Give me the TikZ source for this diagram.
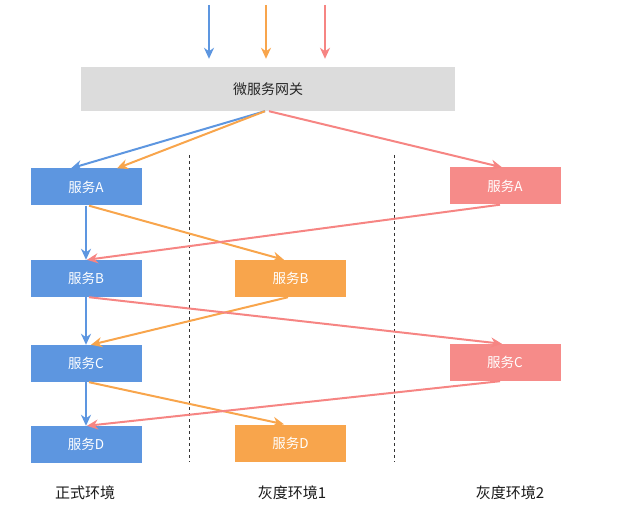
\documentclass[tikz,border=0pt]{standalone}
\usepackage{fontspec}
\newfontfamily\cjk{Noto Sans CJK SC}
\usetikzlibrary{arrows.meta}
\definecolor{prodblue}{HTML}{5D96E0}
\definecolor{grayorange}{HTML}{F8A54C}
\definecolor{grayred}{HTML}{F68583}
\definecolor{gwgray}{HTML}{DCDCDC}

\begin{document}
\begin{tikzpicture}[x=1pt, y=-1pt,
            % ----- Styles -----
                svc/.style={
                    rectangle, minimum width=111pt, minimum height=37pt,
                    inner sep=0pt, text=white, font=\cjk\fontsize{13.5}{15}\selectfont
                },
                prod/.style={svc, fill=prodblue},
                grayone/.style={svc, fill=grayorange},
                graytwo/.style={svc, fill=grayred!95!white},
                gw/.style={
                    rectangle, fill=gwgray, minimum width=374pt, minimum height=44pt,
                    font=\cjk\fontsize{14}{16}\selectfont, text=black!85
                },
                flow/.style={-{Stealth[length=11pt, width=10pt, inset=3.5pt]}, line width=2pt},
                envline/.style={dashed, dash pattern=on 3pt off 3pt, line width=0.9pt, black!80},
                envlbl/.style={font=\cjk\fontsize{15}{18}\selectfont, text=black!90}
            ]
                \useasboundingbox (0,0) rectangle (632,513);

% ===================== Umgebungsgrenzen =======================
                \draw[envline] (189,155) -- (189,462);
                \draw[envline] (394,155) -- (394,462);

% ===================== Gateway ================================
                \node[gw] (gw) at (268,89) {微服务网关};

                \coordinate (inb) at (209,5);
                \coordinate (ino) at (266,5);
                \coordinate (inr) at (325,5);

% ===================== Dienste ================================
%
%  Spalte 1 (x=86):  正式环境, A B C D
%  Spalte 2 (x=290): 灰度环境1, B D
%  Spalte 3 (x=505): 灰度环境2, A C

                \node[prod]    (pa) at (86, 187)   {服务A};
                \node[prod]    (pb) at (86, 278.5) {服务B};
                \node[prod]    (pc) at (86, 363.5) {服务C};
                \node[prod]    (pd) at (86, 444.5) {服务D};

                \node[grayone] (ob) at (290.5, 278.5) {服务B};
                \node[grayone] (od) at (290.5, 443)   {服务D};

                \node[graytwo] (ra) at (505, 186)   {服务A};
                \node[graytwo] (rc) at (505, 362.5) {服务C};

% ===================== Umgebungsnamen =========================
                \node[envlbl] (lp)  at (85, 493)  {正式环境};
                \node[envlbl] (lg1) at (292, 493) {灰度环境1};
                \node[envlbl] (lg2) at (510, 493) {灰度环境2};

% ===================== Eingehende Anfragen ====================
                \draw[flow, prodblue,   shorten >=8pt] (inb) -- (inb |- gw.north);
                \draw[flow, grayorange, shorten >=8pt] (ino) -- (ino |- gw.north);
                \draw[flow, grayred,    shorten >=8pt] (inr) -- (inr |- gw.north);

% ===================== Gateway -> Dienst A ====================
                \draw[flow, prodblue]   ([xshift=-3pt]gw.south) -- ([xshift=-15pt]pa.north);
                \draw[flow, grayorange] ([xshift=-3pt]gw.south) -- ([xshift=31pt]pa.north);
                \draw[flow, grayred]    ([xshift=1pt]gw.south)  -- ([xshift=-3pt]ra.north);

% ===================== Aufrufkette ============================
% blau: alles im 正式环境
                \draw[flow, prodblue] (pa.south) -- (pb.north);
                \draw[flow, prodblue] (pb.south) -- (pc.north);
                \draw[flow, prodblue] (pc.south) -- (pd.north);

% orange: B und D aus 灰度环境1
                \draw[flow, grayorange] ([xshift=3pt]pa.south) -- ([xshift=-6.5pt]ob.north);
                \draw[flow, grayorange] ([xshift=-2.5pt]ob.south) -- ([xshift=5pt]pc.north);
                \draw[flow, grayorange] ([xshift=3pt]pc.south) -- ([xshift=-6.5pt]od.north);

% rot: A und C aus 灰度环境2
                \draw[flow, grayred] ([xshift=-5pt]ra.south) -- ([xshift=1pt]pb.north);
                \draw[flow, grayred] ([xshift=3pt]pb.south) -- ([xshift=-3pt]rc.north);
                \draw[flow, grayred] ([xshift=-5pt]rc.south) -- ([xshift=1pt]pd.north);

            \end{tikzpicture}
\end{document}
